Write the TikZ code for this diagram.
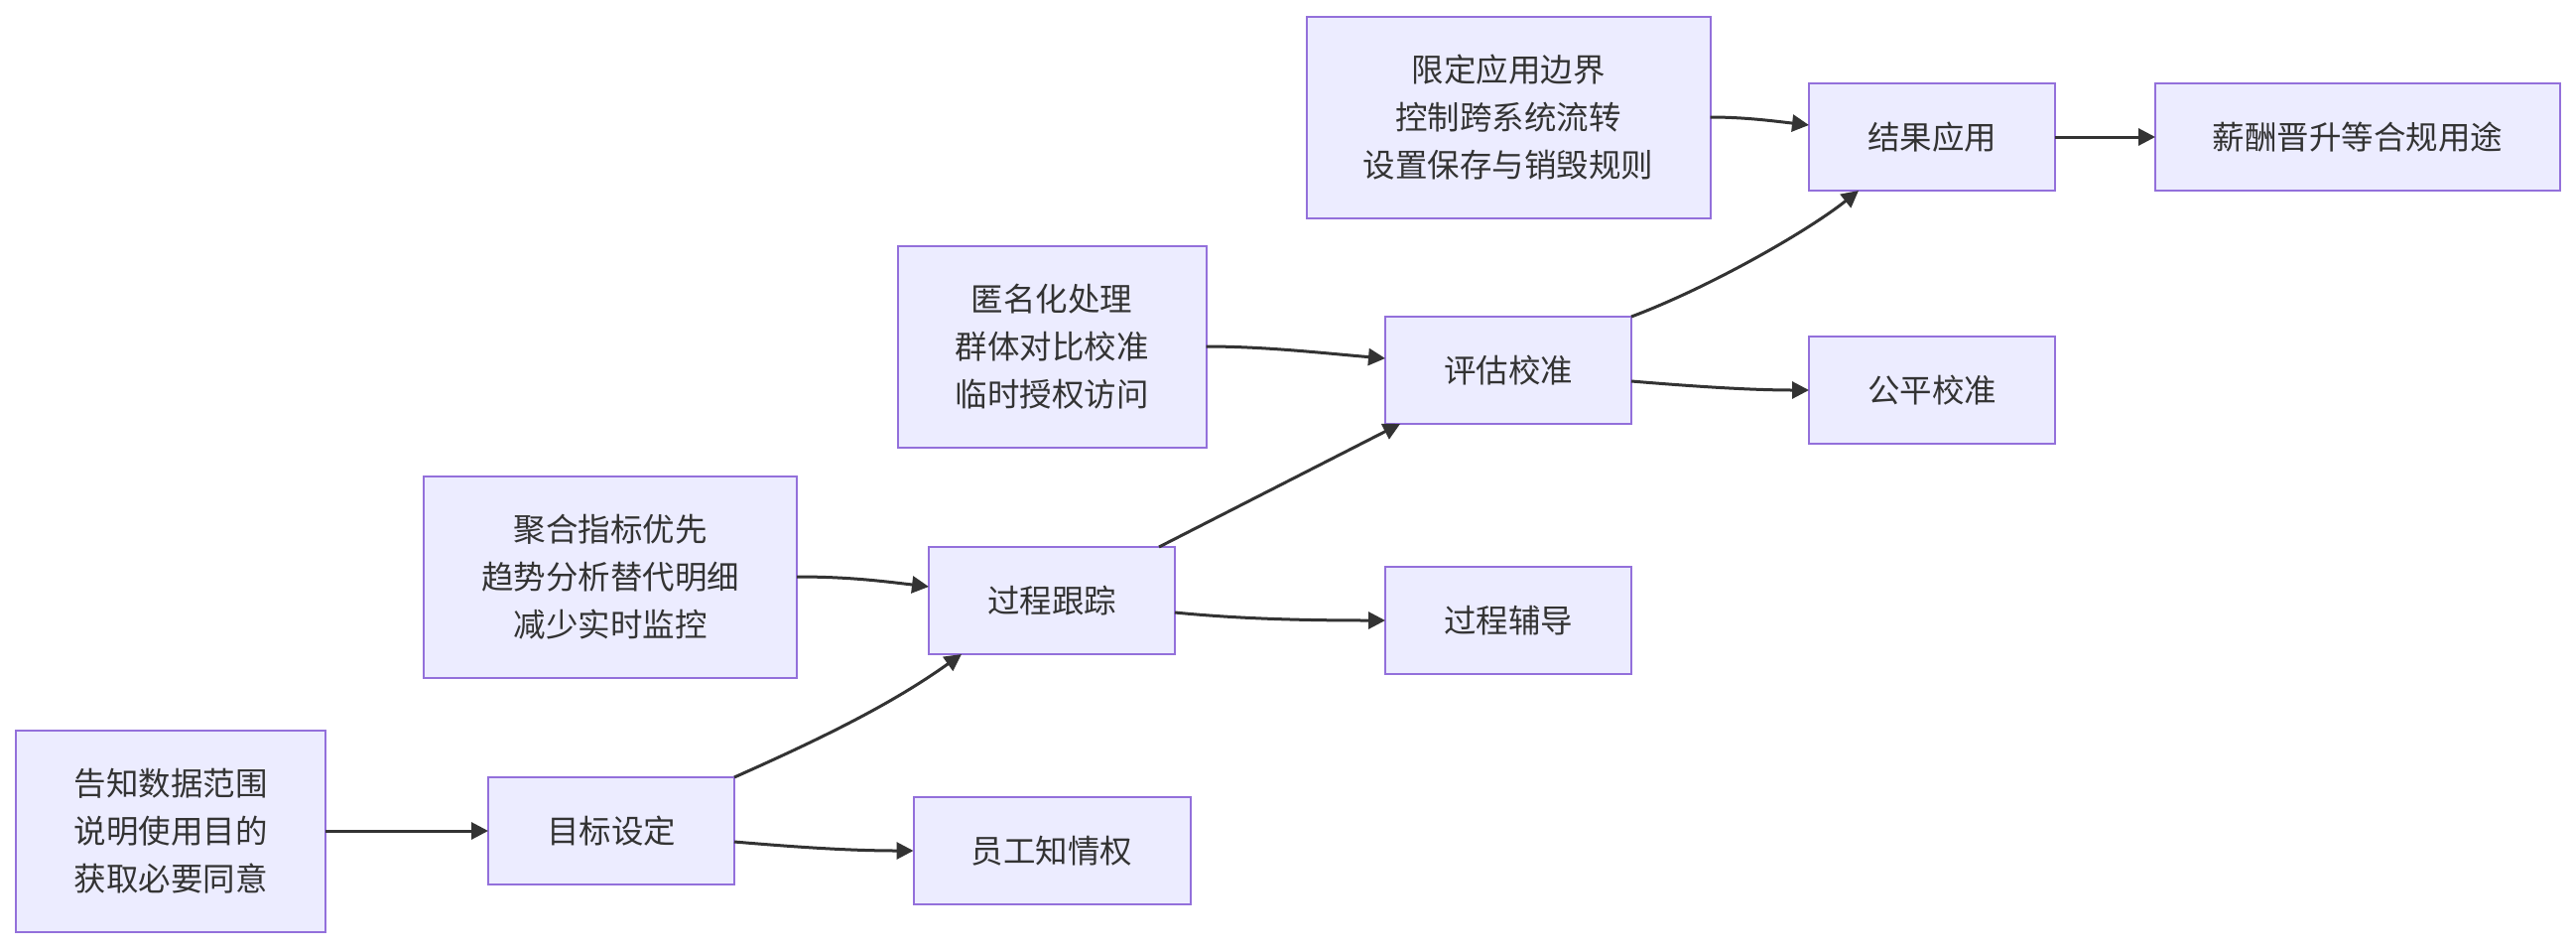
\documentclass[tikz,border=0pt]{standalone}
\usepackage{fontspec}
\setmainfont{Noto Sans CJK SC}
\usetikzlibrary{arrows.meta}
\definecolor{boxfill}{HTML}{ECECFF}
\definecolor{boxline}{HTML}{9370DB}
\definecolor{ink}{HTML}{333333}
\begin{document}
\begin{tikzpicture}[x=1pt,y=-1pt,
 box/.style={draw=boxline, fill=boxfill, line width=2pt, inner sep=0pt, outer sep=0pt, align=center, text=ink, font=\fontsize{32.5}{48}\selectfont},
 small/.style={box, minimum width=248pt, minimum height=108pt},
 big/.style={box, minimum height=203pt},
 arr/.style={draw=ink, line width=3pt, -{Triangle[length=17pt,width=17pt]}}]
\useasboundingbox (0,0) rectangle (2596,956);

\node[big, minimum width=312pt] (n1) at (172,837) {告知数据范围\\说明使用目的\\获取必要同意};
\node[small] (n2) at (616,837) {目标设定};
\node[small, minimum width=279pt] (n3) at (1060,857) {员工知情权};
\node[big, minimum width=376pt] (n4) at (615,581) {聚合指标优先\\趋势分析替代明细\\减少实时监控};
\node[small] (n5) at (1060,605) {过程跟踪};
\node[small] (n6) at (1520,625) {过程辅导};
\node[big, minimum width=311pt] (n7) at (1060,349) {匿名化处理\\群体对比校准\\临时授权访问};
\node[small] (n8) at (1520,373) {评估校准};
\node[small] (n9) at (1947,393) {公平校准};
\node[big, minimum width=407pt] (n10) at (1520,118) {限定应用边界\\控制跨系统流转\\设置保存与销毁规则};
\node[small] (n11) at (1947,138) {结果应用};
\node[small, minimum width=408pt] (n12) at (2376,138) {薪酬晋升等合规用途};

\draw[arr] (n1.east) -- (n2.west);
\draw[arr] ([yshift=-11pt]n2.east) .. controls +(70,6) and +(-60,0) .. (n3.west);
\draw[arr] (n2.north east) .. controls +(90,-40) and +(-70,50) .. ([xshift=33pt]n5.south west);
\draw[arr] (n4.east) .. controls +(50,0) and +(-50,-6) .. ([yshift=14pt]n5.west);
\draw[arr] ([yshift=-12pt]n5.east) .. controls +(70,7) and +(-70,0) .. (n6.west);
\draw[arr] ([xshift=-16pt]n5.north east) -- ([xshift=15pt]n8.south west);
\draw[arr] (n7.east) .. controls +(60,0) and +(-60,-5) .. ([yshift=12pt]n8.west);
\draw[arr] ([yshift=-11pt]n8.east) .. controls +(60,5) and +(-60,0) .. (n9.west);
\draw[arr] (n8.north east) .. controls +(80,-30) and +(-50,40) .. ([xshift=50pt]n11.south west);
\draw[arr] (n10.east) .. controls +(35,0) and +(-35,-4) .. ([yshift=12pt]n11.west);
\draw[arr] (n11.east) -- (n12.west);
\end{tikzpicture}
\end{document}
